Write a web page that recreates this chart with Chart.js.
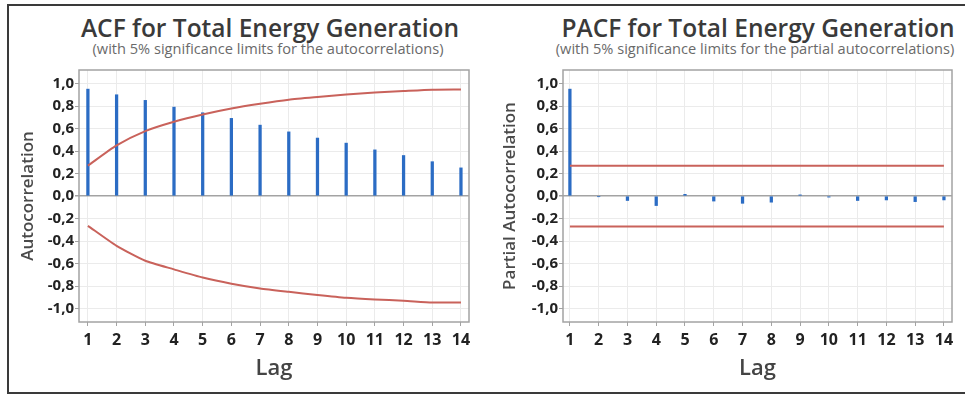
<!DOCTYPE html>
<html lang="en">
<head>
<meta charset="UTF-8">
<title>ACF / PACF for Total Energy Generation</title>
<script src="https://cdn.jsdelivr.net/npm/chart.js"></script>
<style>
    * { margin: 0; padding: 0; box-sizing: border-box; }

    body {
        width: 965px;
        height: 394px;
        overflow: hidden;
        background: #fff;
        font-family: 'Open Sans', Arial, sans-serif;
        position: relative;
    }

    .frame {
        position: absolute;
        left: 7px;
        top: 4px;
        width: 1000px;
        height: 390px;
        border: 2px solid #3a3a3a;
    }

    .title, .subtitle {
        position: absolute;
        width: 480px;
        text-align: center;
        white-space: nowrap;
    }

    .title {
        top: 13px;
        font-size: 24.5px;
        line-height: 30px;
        font-weight: 600;
        color: #3a3a3a;
    }

    .subtitle {
        top: 39px;
        font-size: 14.6px;
        line-height: 18px;
        color: #6a6a6a;
    }

    canvas {
        position: absolute;
        top: 60px;
    }
</style>
</head>
<body>
    <div class="frame"></div>

    <div class="title" style="left: 30px;">ACF for Total Energy Generation</div>
    <div class="subtitle" style="left: 28px;">(with 5% significance limits for the autocorrelations)</div>
    <div class="title" style="left: 518px;">PACF for Total Energy Generation</div>
    <div class="subtitle" style="left: 515px;">(with 5% significance limits for the partial autocorrelations)</div>

    <canvas id="acfChart" width="480" height="334" style="left: 0px;"></canvas>
    <canvas id="pacfChart" width="485" height="334" style="left: 480px;"></canvas>

    <script>
        // Dados
        const lags = [1, 2, 3, 4, 5, 6, 7, 8, 9, 10, 11, 12, 13, 14];
        const yTicks = [-1.0, -0.8, -0.6, -0.4, -0.2, 0.0, 0.2, 0.4, 0.6, 0.8, 1.0];

        const acfValues = [0.95, 0.90, 0.85, 0.79, 0.74, 0.69, 0.63, 0.57, 0.515, 0.47, 0.41, 0.36, 0.305, 0.25];
        const acfUpper = [0.27, 0.45, 0.577, 0.66, 0.725, 0.778, 0.82, 0.856, 0.88, 0.902, 0.92, 0.933, 0.945, 0.947];
        const acfLower = [-0.265, -0.443, -0.576, -0.652, -0.725, -0.78, -0.822, -0.852, -0.88, -0.905, -0.92, -0.931, -0.947, -0.947];

        const pacfValues = [0.95, -0.005, -0.04, -0.085, 0.015, -0.045, -0.065, -0.055, 0.01, -0.01, -0.04, -0.035, -0.05, -0.035];
        const pacfUpper = [0.27, 0.27, 0.27, 0.27, 0.27, 0.27, 0.27, 0.27, 0.27, 0.27, 0.27, 0.27, 0.27, 0.27];
        const pacfLower = [-0.27, -0.27, -0.27, -0.27, -0.27, -0.27, -0.27, -0.27, -0.27, -0.27, -0.27, -0.27, -0.27, -0.27];

        const barColor = '#2b6cc4';
        const limitColor = '#c9625b';
        const fmt = v => v.toFixed(1).replace('.', ',');

        // moldura da área do gráfico
        const plotBorder = {
            id: 'plotBorder',
            beforeDatasetsDraw(chart) {
                const { ctx, chartArea: a } = chart;
                ctx.save();
                ctx.strokeStyle = '#a3a3a3';
                ctx.lineWidth = 1.5;
                ctx.strokeRect(a.left, a.top, a.right - a.left, a.bottom - a.top);
                ctx.restore();
            }
        };

        const makeChart = (id, bars, upper, lower, opts) => new Chart(document.getElementById(id), {
            type: 'bar',
            data: {
                datasets: [
                    {
                        type: 'line',
                        data: lags.map((l, i) => ({ x: l, y: upper[i] })),
                        borderColor: limitColor,
                        borderWidth: 2,
                        pointRadius: 0,
                        tension: 0.2,
                        order: 0
                    },
                    {
                        type: 'line',
                        data: lags.map((l, i) => ({ x: l, y: lower[i] })),
                        borderColor: limitColor,
                        borderWidth: 2,
                        pointRadius: 0,
                        tension: 0.2,
                        order: 0
                    },
                    {
                        data: lags.map((l, i) => ({ x: l, y: bars[i] })),
                        backgroundColor: barColor,
                        barThickness: 2.6,
                        order: 1
                    }
                ]
            },
            options: {
                responsive: false,
                animation: false,
                layout: { padding: { top: 9, right: opts.padRight, left: 0, bottom: 0 } },
                plugins: {
                    legend: { display: false },
                    tooltip: { enabled: false }
                },
                scales: {
                    x: {
                        type: 'linear',
                        min: opts.xMin,
                        max: opts.xMax,
                        offset: false,
                        afterBuildTicks: s => { s.ticks = lags.map(v => ({ value: v })); },
                        afterFit: s => { s.height = 72; },
                        border: { display: false },
                        grid: {
                            offset: false,
                            color: '#ebebeb',
                            tickColor: '#a3a3a3',
                            tickLength: 4
                        },
                        ticks: {
                            padding: 5,
                            color: '#222',
                            font: { family: 'Open Sans', size: 16, weight: 'bold' }
                        },
                        title: {
                            display: true,
                            text: 'Lag',
                            color: '#444',
                            padding: { top: 0, bottom: 12 },
                            font: { family: 'Open Sans', size: 22, weight: '600' }
                        }
                    },
                    y: {
                        min: -1.12,
                        max: 1.12,
                        afterBuildTicks: s => { s.ticks = yTicks.map(v => ({ value: v })); },
                        afterFit: s => { s.width = opts.yWidth; },
                        border: { display: false },
                        grid: {
                            color: c => (c.tick && Math.abs(c.tick.value) < 1e-9) ? '#a3a3a3' : '#ebebeb',
                            lineWidth: c => (c.tick && Math.abs(c.tick.value) < 1e-9) ? 1.5 : 1,
                            tickColor: '#a3a3a3',
                            tickLength: 4
                        },
                        ticks: {
                            padding: 1,
                            color: '#222',
                            font: { family: 'Open Sans', size: 15, weight: 'bold' },
                            callback: v => fmt(v)
                        },
                        title: {
                            display: true,
                            text: opts.yTitle,
                            color: '#4a4a4a',
                            padding: { top: opts.yTitlePad, bottom: 0 },
                            font: { family: 'Open Sans', size: 17, weight: '600' }
                        }
                    }
                }
            },
            plugins: [plotBorder]
        });

        makeChart('acfChart', acfValues, acfUpper, acfLower, {
            xMin: 0.69, xMax: 14.28, yWidth: 79, padRight: 11,
            yTitle: 'Autocorrelation', yTitlePad: 18
        });

        makeChart('pacfChart', pacfValues, pacfUpper, pacfLower, {
            xMin: 0.76, xMax: 14.28, yWidth: 83, padRight: 13,
            yTitle: 'Partial Autocorrelation', yTitlePad: 20
        });
    </script>
</body>
</html>
